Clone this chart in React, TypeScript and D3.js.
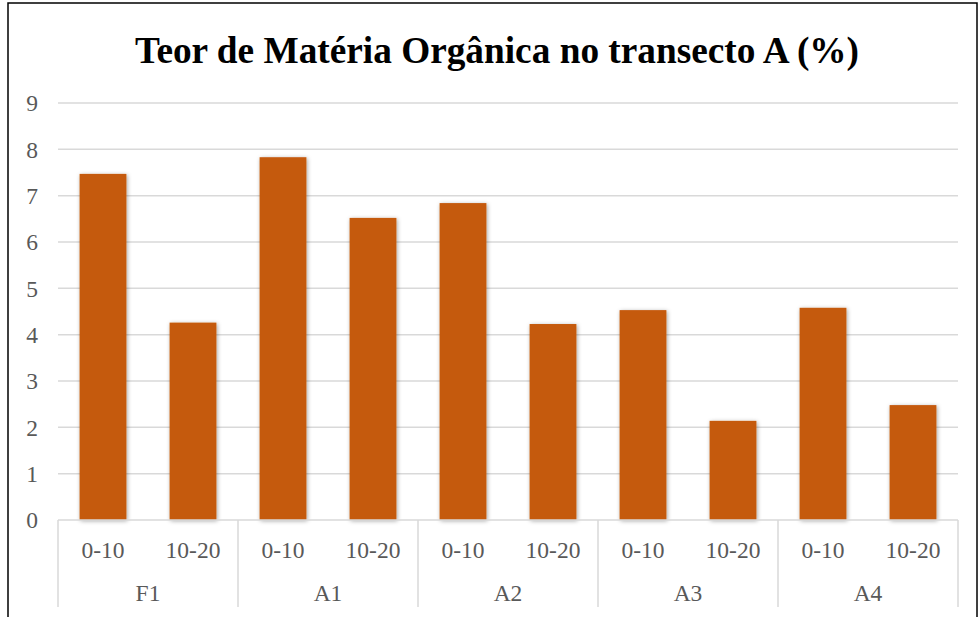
import React from "react";
import * as d3 from "d3";

const groups = ["F1", "A1", "A2", "A3", "A4"];
const depths = ["0-10", "10-20"];
const values = [7.47, 4.26, 7.83, 6.52, 6.84, 4.23, 4.53, 2.14, 4.58, 2.48];
const yTicks = [0, 1, 2, 3, 4, 5, 6, 7, 8, 9];
const title = "Teor de Matéria Orgânica no transecto A (%)";

const W = 979;
const H = 617;
const plot = { left: 58, right: 958, top: 103, bottom: 520 };
const font = "'Liberation Serif', 'Times New Roman', serif";
const textColor = "#595959";
const gridColor = "#d9d9d9";
const barColor = "#C55A11";
const labelSize = 23.5;

export default function App() {
  const cats = groups.flatMap((g) => depths.map((d) => `${g}|${d}`));
  const x = d3.scaleBand<string>().domain(cats).range([plot.left, plot.right]).paddingInner(0.48).paddingOuter(0.24);
  const xCat = d3.scaleBand<string>().domain(cats).range([plot.left, plot.right]);
  const y = d3.scaleLinear().domain([0, 9]).range([plot.bottom, plot.top]);
  const groupW = (plot.right - plot.left) / groups.length;

  return (
    <svg width={W} height={H} style={{ position: "absolute", left: 0, top: 0, display: "block" }}>
      <defs>
        <filter id="barShadow" x="-20%" y="-5%" width="140%" height="110%">
          <feDropShadow dx="1" dy="1" stdDeviation="2" floodColor="#000" floodOpacity="0.35" />
        </filter>
      </defs>
      <rect x={0} y={0} width={W} height={H} fill="#fff" />
      <rect x={8} y={3} width={969} height={H + 10} fill="#fff" stroke="#000" strokeWidth={1.5} />
      <text x={497} y={63} textAnchor="middle" fontFamily={font} fontWeight="bold" fontSize={37.3} fill="#000">
        {title}
      </text>
      {yTicks.map((t) => (
        <g key={t}>
          {t > 0 && (
            <line x1={plot.left} x2={plot.right} y1={y(t)} y2={y(t)} stroke={gridColor} strokeWidth={1.5} />
          )}
          <text x={38} y={y(t)} dy="0.35em" textAnchor="end" fontFamily={font} fontSize={labelSize} fill={textColor}>
            {t}
          </text>
        </g>
      ))}
      <g filter="url(#barShadow)">
        {cats.map((c, i) => (
          <rect key={c} x={x(c)} y={y(values[i])} width={x.bandwidth()} height={y(0) - y(values[i])} fill={barColor} />
        ))}
      </g>
      <line x1={plot.left} x2={plot.right} y1={plot.bottom} y2={plot.bottom} stroke={gridColor} strokeWidth={1.5} />
      {d3.range(groups.length + 1).map((i) => (
        <line
          key={i}
          x1={plot.left + i * groupW}
          x2={plot.left + i * groupW}
          y1={plot.bottom}
          y2={607}
          stroke={gridColor}
          strokeWidth={1.5}
        />
      ))}
      {cats.map((c) => (
        <text
          key={c}
          x={(xCat(c) as number) + xCat.bandwidth() / 2}
          y={550}
          dy="0.35em"
          textAnchor="middle"
          fontFamily={font}
          fontSize={labelSize}
          fill={textColor}
        >
          {c.split("|")[1]}
        </text>
      ))}
      {groups.map((g, i) => (
        <text
          key={g}
          x={plot.left + (i + 0.5) * groupW}
          y={593}
          dy="0.35em"
          textAnchor="middle"
          fontFamily={font}
          fontSize={labelSize}
          fill={textColor}
        >
          {g}
        </text>
      ))}
    </svg>
  );
}
